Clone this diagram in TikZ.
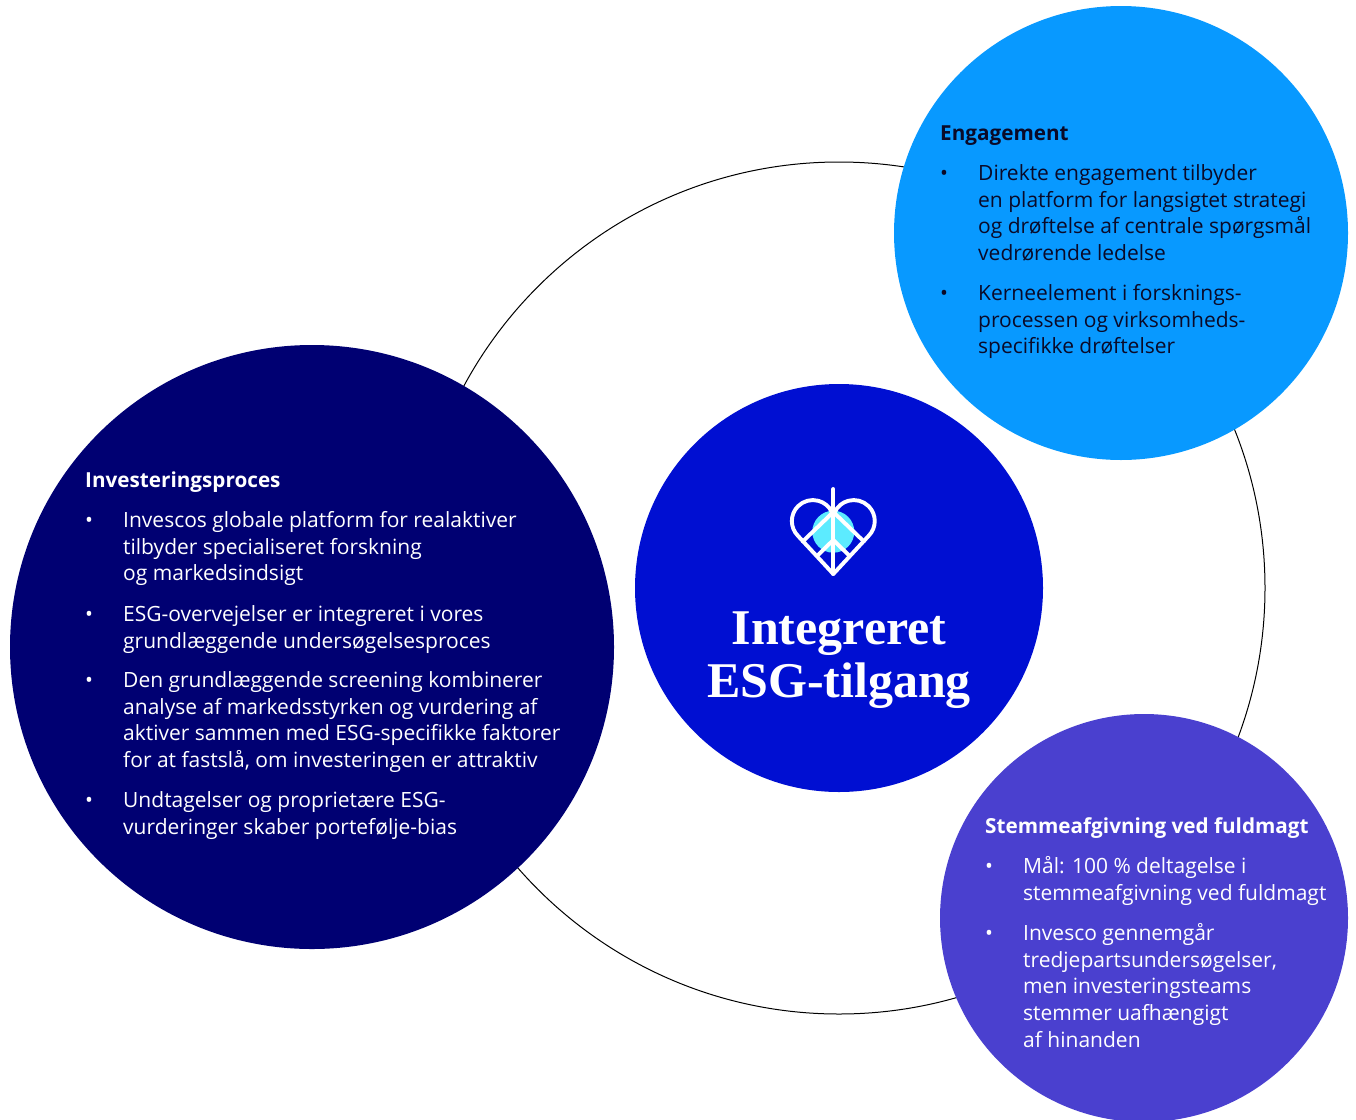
\documentclass[tikz,border=0pt]{standalone}
\usepackage{fontspec}
\setmainfont{Open Sans}
\newfontfamily\titlefont{Liberation Serif}
\newcommand{\lineup}{\rule{0pt}{20pt}}
\definecolor{navy}{HTML}{000072}
\definecolor{royal}{HTML}{000FD2}
\definecolor{sky}{HTML}{0899FF}
\definecolor{violet}{HTML}{4A40CF}
\definecolor{cyanspot}{HTML}{5CEBFF}
\definecolor{ink}{HTML}{0A0A28}
\tikzset{
  disc/.style={circle,inner sep=0pt,draw=none},
  para/.style={anchor=north west,inner sep=0pt,align=left,font=\fontsize{21}{26.8}\selectfont},
  headtext/.style={para,font=\fontsize{20.7}{26.8}\selectfont\bfseries},
  titletext/.style={text=white,inner sep=0pt,anchor=base,font=\titlefont\bfseries\fontsize{50}{53}\selectfont},
  icon/.style={draw=white,line width=3.9pt,line cap=round,line join=round}
}
\begin{document}
\begin{tikzpicture}[x=1pt,y=-1pt]
\useasboundingbox (0,0) rectangle (1356,1119);
\node[disc,draw=black,line width=1pt,minimum size=852pt] (ring) at (839,588) {};
\begin{scope}
\clip (0,0) rectangle (1356,1119);
\node[disc,fill=navy,minimum size=604pt] (left) at (312,647) {};
\node[disc,fill=royal,minimum size=408pt] (center) at (839,588) {};
\node[disc,fill=sky,minimum size=454pt] (top) at (1121,233) {};
\node[disc,fill=violet,minimum size=408pt] (bottom) at (1144,918) {};
\end{scope}
% icon
\node[disc,fill=cyanspot,minimum size=42pt] (spot) at (833.3,531.7) {};
\draw[icon] (833.3,489) -- (833.3,574);
\draw[icon] (833.3,574) -- (798,535.9) arc[start angle=135,end angle=335,radius=21];
\draw[icon] (833.3,574) -- (868.6,535.9) arc[start angle=45,end angle=-155,radius=21];
\draw[icon] (833.3,512) -- (802.7,541.5);
\draw[icon] (833.3,512) -- (863.9,541.5);
\draw[icon] (833.3,540) -- (818,555);
\draw[icon] (833.3,540) -- (848.6,555);
% title
\node[titletext] (title1) at (839,644) {Integreret};
\node[titletext] (title2) at (839,697) {ESG-tilgang};
% left
\node[headtext,text=white] (h1) at (85,467) {\lineup Investeringsproces};
\node[para,text=white] (b1a) at (85,507) {\lineup •};
\node[para,text=white] (p1a) at (123,507) {\lineup Invescos globale platform for realaktiver\\tilbyder specialiseret forskning\\og markedsindsigt};
\node[para,text=white] (b1b) at (85,601) {\lineup •};
\node[para,text=white] (p1b) at (123,601) {\lineup ESG-overvejelser er integreret i vores\\grundlæggende undersøgelsesproces};
\node[para,text=white] (b1c) at (85,667) {\lineup •};
\node[para,text=white] (p1c) at (123,667) {\lineup Den grundlæggende screening kombinerer\\analyse af markedsstyrken og vurdering af\\aktiver sammen med ESG-specifikke faktorer\\for at fastslå, om investeringen er attraktiv};
\node[para,text=white] (b1d) at (85,787) {\lineup •};
\node[para,text=white] (p1d) at (123,787) {\lineup Undtagelser og proprietære ESG-\\vurderinger skaber portefølje-bias};
% top
\node[headtext,text=ink] (h2) at (940,120) {\lineup Engagement};
\node[para,text=ink] (b2a) at (940,160) {\lineup •};
\node[para,text=ink] (p2a) at (978,160) {\lineup Direkte engagement tilbyder\\en platform for langsigtet strategi\\og drøftelse af centrale spørgsmål\\vedrørende ledelse};
\node[para,text=ink] (b2b) at (940,280) {\lineup •};
\node[para,text=ink] (p2b) at (978,280) {\lineup Kerneelement i forsknings-\\processen og virksomheds-\\specifikke drøftelser};
% bottom
\node[headtext,text=white] (h3) at (985,813) {\lineup Stemmeafgivning ved fuldmagt};
\node[para,text=white] (b3a) at (985,853) {\lineup •};
\node[para,text=white] (p3a) at (1023,853) {\lineup Mål: 100 \% deltagelse i\\stemmeafgivning ved fuldmagt};
\node[para,text=white] (b3b) at (985,920) {\lineup •};
\node[para,text=white] (p3b) at (1023,920) {\lineup Invesco gennemgår\\tredjepartsundersøgelser,\\men investeringsteams\\stemmer uafhængigt\\af hinanden};
\end{tikzpicture}
\end{document}
